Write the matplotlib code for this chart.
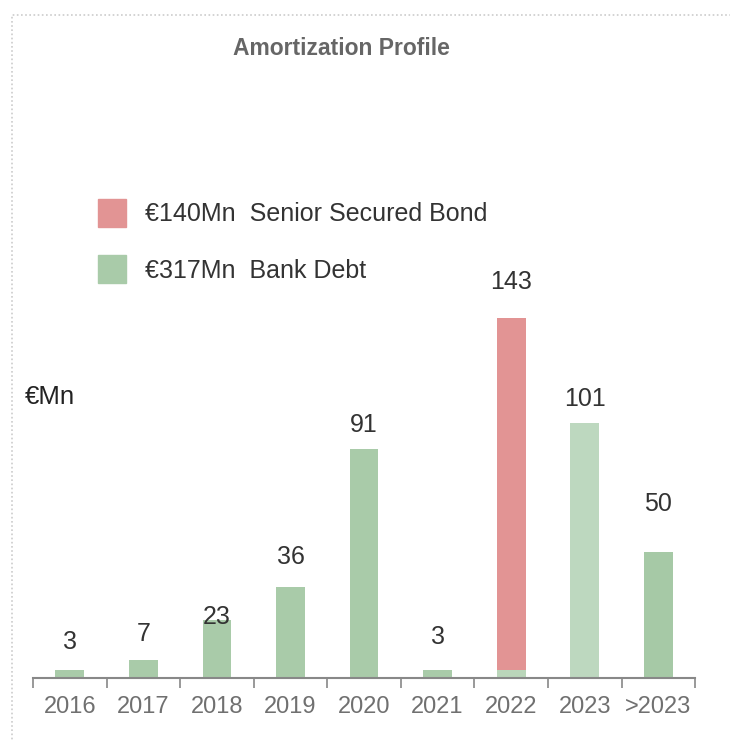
import matplotlib.pyplot as plt
from matplotlib.patches import Rectangle, Patch

# Data
years = ['2016', '2017', '2018', '2019', '2020', '2021', '2022', '2023', '>2023']
bank_debt = [3, 7, 23, 36, 91, 3, 3, 101, 50]
senior_bond = [0, 0, 0, 0, 0, 0, 140, 0, 0]
totals = [b + s for b, s in zip(bank_debt, senior_bond)]

# Styles
bank_colors = ['#A9CBA9', '#A9CBA9', '#A9CBA9', '#A9CBA9', '#A9CBA9',
               '#A9CBA9', '#BAD6BA', '#BDD8BF', '#A6C9A6']
bond_color = '#E29494'
label_pad = [21, 19, -4, 23, 17, 26, 29, 17, 41]  # pixels above bar top

plt.rcParams['font.family'] = ['Liberation Sans', 'DejaVu Sans']

fig = plt.figure(figsize=(7.3, 7.4), dpi=100)
ax = fig.add_axes([0.0452, 0.0838, 0.907, 0.613])

x = list(range(len(years)))
ax.bar(x, bank_debt, width=0.39, color=bank_colors)
ax.bar(x, senior_bond, width=0.39, bottom=bank_debt, color=bond_color)

# Value labels
for xi, t, pad in zip(x, totals, label_pad):
    ax.annotate(str(t), (xi, t), xytext=(0, pad), textcoords='offset pixels',
                ha='center', va='baseline', fontsize=18, color='#333333')

ax.set_xlim(-0.5, len(years) - 0.5)
ax.set_ylim(0, 180)
ax.set_xticks(x)
ax.set_xticklabels(years, fontsize=17, color='#707070')
ax.set_xticks([i - 0.5 for i in range(len(years) + 1)], minor=True)
ax.tick_params(axis='x', which='major', length=0, pad=13)
ax.tick_params(axis='x', which='minor', length=7, width=1.2, color='#888888', direction='out')
ax.set_yticks([])
for side in ['top', 'right', 'left']:
    ax.spines[side].set_visible(False)
ax.spines['bottom'].set_color('#888888')
ax.spines['bottom'].set_linewidth(1.5)

# Title and unit label
fig.text(0.468, 0.935, 'Amortization Profile', ha='center', va='center',
         fontsize=16.5, fontweight='bold', color='#666666')
fig.text(0.034, 0.463, '€Mn', ha='left', va='center', fontsize=18.5, color='#222222')

# Legend
handles = [Patch(color=bond_color), Patch(color=bank_colors[0])]
labels = ['€140Mn  Senior Secured Bond', '€317Mn  Bank Debt']
fig.legend(handles, labels, loc='upper left', bbox_to_anchor=(0.104, 0.762),
           frameon=False, fontsize=18, handlelength=1.1, handleheight=1.35,
           handletextpad=0.75, labelspacing=1.15, labelcolor='#333333')

# Dotted border around the chart area
fig.patches.append(Rectangle((0.016, -0.01), 1.0, 0.99, transform=fig.transFigure,
                             fill=False, edgecolor='#CCCCCC', linestyle=(0, (1, 1.5)),
                             linewidth=1.2))

fig.savefig('out.png', dpi=100)
